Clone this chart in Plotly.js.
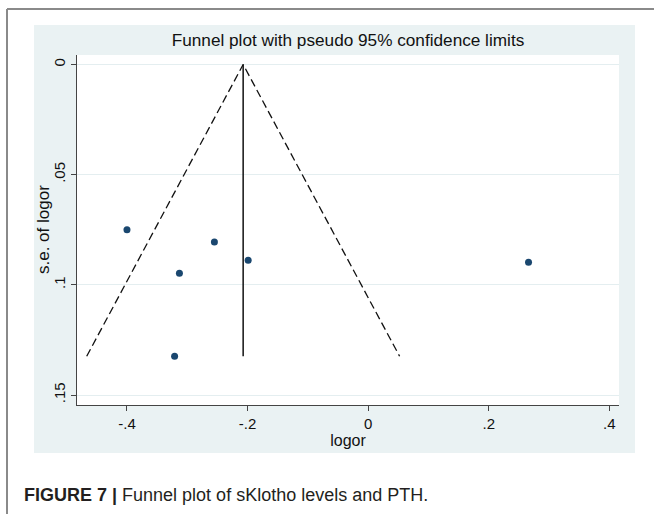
<!DOCTYPE html>
<html>
<head>
<meta charset="utf-8">
<script src="https://cdn.plot.ly/plotly-3.0.1.min.js"></script>
<style>
  html, body { margin: 0; padding: 0; background: #ffffff; }
  #chart { width: 654px; height: 514px; }
</style>
</head>
<body>
<div id="chart"></div>
<script>
// Study estimates
const logor = [-0.400, -0.313, -0.255, -0.199, -0.321, 0.266];
const seLogor = [0.075, 0.0947, 0.0805, 0.0888, 0.1324, 0.0897];

// Axis ticks
const xTickVals = [-0.4, -0.2, 0, 0.2, 0.4];
const xTickText = ['-.4', '-.2', '0', '.2', '.4'];
const yTickVals = [0, 0.05, 0.1, 0.15];
const yTickText = ['0', '.05', '.1', '.15'];

// Fixed-effect pooled estimate and pseudo 95% limits derived from the data
let sw = 0, swx = 0;
for (let i = 0; i < logor.length; i++) {
  const w = 1 / (seLogor[i] * seLogor[i]);
  sw += w; swx += w * logor[i];
}
const pooled = swx / sw;
const maxSe = Math.max(...seLogor);
const z = 1.96;

const FONT = '"Liberation Sans", Arial, Helvetica, sans-serif';
const TXT = '#111111';

const traces = [
  {
    x: [pooled - z * maxSe, pooled, pooled + z * maxSe],
    y: [maxSe, 0, maxSe],
    mode: 'lines',
    line: { color: '#111111', width: 1.3, dash: '8px,4px' },
    hoverinfo: 'skip',
    showlegend: false
  },
  {
    x: [pooled, pooled],
    y: [0, maxSe],
    mode: 'lines',
    line: { color: '#111111', width: 1.5 },
    hoverinfo: 'skip',
    showlegend: false
  },
  {
    x: logor,
    y: seLogor,
    mode: 'markers',
    marker: { color: '#1a476f', size: 7 },
    showlegend: false
  }
];

// pixel helpers for paper coordinates (plot area: x 77..619, y 55..405)
const PL = 77, PR = 619, PT = 55, PB = 405;
const px = v => (v - PL) / (PR - PL);
const py = v => (PB - v) / (PB - PT);

const layout = {
  width: 654,
  height: 514,
  autosize: false,
  margin: { l: PL, r: 654 - PR, t: PT, b: 514 - PB, pad: 0 },
  paper_bgcolor: '#ffffff',
  plot_bgcolor: '#ffffff',
  font: { family: FONT, size: 15, color: TXT },
  title: {
    text: 'Funnel plot with pseudo 95% confidence limits',
    font: { family: FONT, size: 17.2, color: TXT },
    x: 0.5, xref: 'paper', xanchor: 'center',
    y: 1 - 40 / 514, yref: 'container', yanchor: 'middle'
  },
  xaxis: {
    range: [-0.4829, 0.4161],
    tickvals: xTickVals,
    ticktext: xTickText,
    ticks: 'outside',
    ticklen: 5,
    tickcolor: '#444444',
    showline: true,
    linecolor: '#444444',
    linewidth: 1,
    showgrid: false,
    zeroline: false,
    tickfont: { family: FONT, size: 15, color: TXT },
    title: { text: 'logor', font: { family: FONT, size: 16, color: TXT }, standoff: 1 },
    automargin: false
  },
  yaxis: {
    range: [0.1545, -0.0043],
    tickvals: yTickVals,
    ticktext: yTickText,
    tickangle: -90,
    ticks: 'outside',
    ticklen: 5,
    tickcolor: '#444444',
    showline: true,
    linecolor: '#444444',
    linewidth: 1,
    showgrid: true,
    gridcolor: '#e4eef0',
    gridwidth: 1,
    zeroline: false,
    tickfont: { family: FONT, size: 15, color: TXT },
    automargin: false
  },
  shapes: [
    { type: 'rect', xref: 'paper', yref: 'paper', layer: 'below',
      x0: px(34), x1: px(635), y0: py(453), y1: py(25),
      fillcolor: '#eaf2f3', line: { width: 0 } },
    { type: 'rect', xref: 'paper', yref: 'paper', layer: 'below',
      x0: 0, x1: 1, y0: 0, y1: 1,
      fillcolor: '#ffffff', line: { width: 0 } },
    { type: 'line', xref: 'paper', yref: 'paper',
      x0: px(7), x1: px(660), y0: py(9), y1: py(9),
      line: { color: '#8a8a8a', width: 2 } },
    { type: 'line', xref: 'paper', yref: 'paper',
      x0: px(7), x1: px(7), y0: py(9), y1: py(520),
      line: { color: '#8a8a8a', width: 2 } }
  ],
  annotations: [
    { xref: 'paper', yref: 'paper', x: px(43), y: 0.5,
      xanchor: 'center', yanchor: 'middle', textangle: -90, showarrow: false,
      text: 's.e. of logor',
      font: { family: FONT, size: 17, color: TXT } },
    { xref: 'paper', yref: 'paper', x: px(22), y: py(495),
      xanchor: 'left', yanchor: 'middle', showarrow: false,
      text: '<b>FIGURE 7 |</b> Funnel plot of sKlotho levels and PTH.',
      font: { family: FONT, size: 18, color: '#231f20' } }
  ]
};

Plotly.newPlot('chart', traces, layout, { staticPlot: true, displayModeBar: false });
</script>
</body>
</html>
